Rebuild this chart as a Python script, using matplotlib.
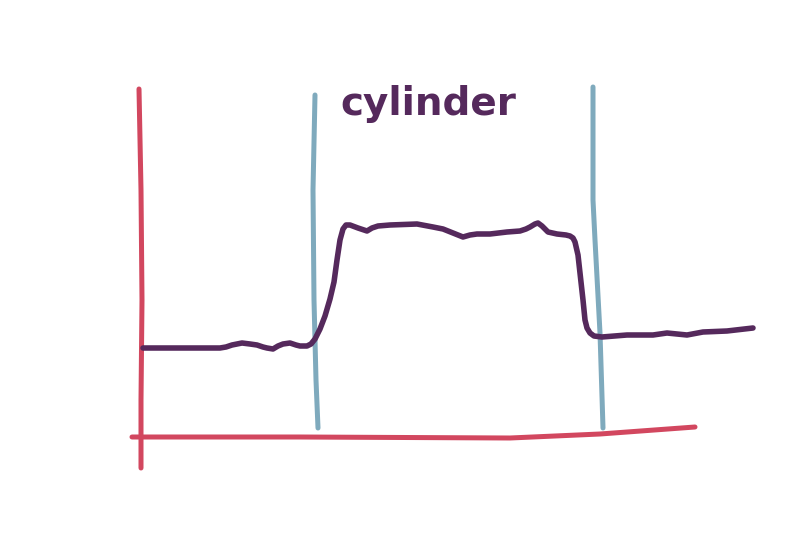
import matplotlib.pyplot as plt

# sketch coordinates (picture space, y grows downwards)
signal_x = [143, 170, 220, 226, 232, 242, 250, 257, 263, 267, 273, 278, 283, 290,
            296, 300, 307, 311, 315, 320, 325, 330, 334, 337, 340, 343, 346, 350,
            358, 367, 372, 378, 390, 417, 433, 443, 453, 458, 463, 470, 477, 490,
            507, 520, 526, 530, 535, 538, 542, 548, 557, 566, 570, 573, 575, 578,
            580, 583, 585, 587, 590, 594, 602, 627, 653, 667, 687, 703, 727, 753]
signal_y = [348, 348, 348, 347, 345, 343, 344, 345, 347, 348, 349, 346, 344, 343,
            345, 346, 346, 344, 339, 329, 316, 299, 282, 260, 240, 229, 225, 225,
            228, 231, 228, 226, 225, 224, 227, 229, 233, 235, 237, 235, 234, 234,
            232, 231, 229, 227, 224, 223, 226, 232, 234, 235, 236, 238, 242, 255,
            273, 300, 320, 328, 333, 336, 337, 335, 335, 333, 335, 332, 331, 328]

yaxis_x = [139, 141, 142, 141, 141]
yaxis_y = [89, 190, 300, 400, 468]
xaxis_x = [132, 300, 510, 600, 695]
xaxis_y = [437, 437, 438, 434, 427]

left_edge_x = [315, 313, 314, 316, 318]
left_edge_y = [95, 190, 300, 380, 428]
right_edge_x = [593, 593, 595, 600, 603]
right_edge_y = [87, 200, 240, 333, 428]

title = "cylinder"

red = "#d2475f"
blue = "#7faabd"
purple = "#55295c"

fig = plt.figure(figsize=(8, 5.38), dpi=100)
ax = fig.add_axes([0, 0, 1, 1])
ax.set_xlim(0, 800)
ax.set_ylim(538, 0)
ax.axis("off")

style = dict(lw=3.6, solid_capstyle="round", solid_joinstyle="round")
ax.plot(left_edge_x, left_edge_y, color=blue, **style)
ax.plot(right_edge_x, right_edge_y, color=blue, **style)
ax.plot(yaxis_x, yaxis_y, color=red, **style)
ax.plot(xaxis_x, xaxis_y, color=red, **style)
ax.plot(signal_x, signal_y, color=purple, lw=4, solid_capstyle="round",
        solid_joinstyle="round")

ax.text(428, 104, title, color=purple, fontsize=28, fontweight="semibold",
        ha="center", va="center")

fig.savefig("out.png", dpi=100, facecolor="white")
